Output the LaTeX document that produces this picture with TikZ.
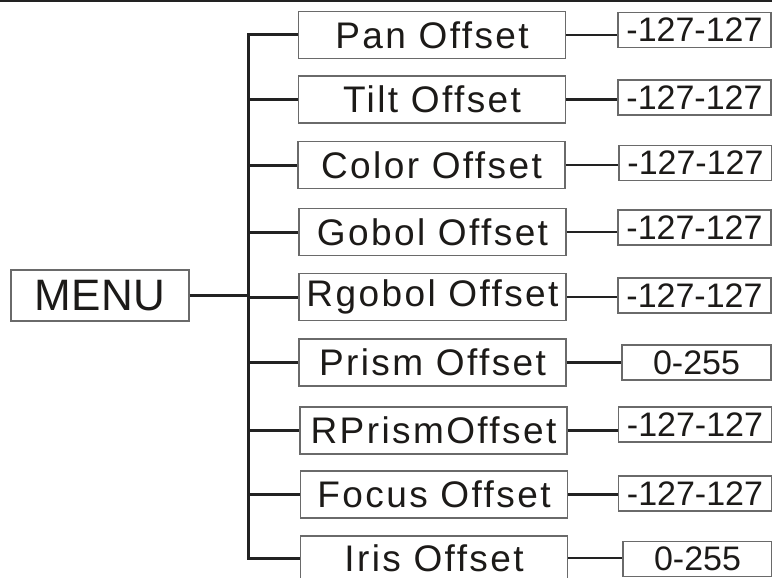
\documentclass[tikz,border=0pt]{standalone}
\usepackage{fontspec}
\setmainfont{Liberation Sans}
\newfontfamily\mainlblfont[LetterSpace=6.5]{Liberation Sans}
\newfontfamily\menulblfont[LetterSpace=1]{Liberation Sans}
\newfontfamily\vallblfont[LetterSpace=0]{Liberation Sans}
\definecolor{txt}{HTML}{1C1A18}
\definecolor{boxgray}{HTML}{6A6A6A}
\definecolor{linec}{HTML}{222222}
\begin{document}
\begin{tikzpicture}[x=1pt,y=-1pt,
  mainbox/.style={draw=boxgray, line width=1.2pt, minimum width=267pt, minimum height=47pt, inner sep=0pt, text=txt, font=\mainlblfont\fontsize{37}{37}\selectfont},
  valbox/.style={draw=boxgray, line width=1.2pt, minimum width=153pt, minimum height=35pt, inner sep=0pt, text=txt, font=\vallblfont\fontsize{34}{34}\selectfont},
  menubox/.style={draw=boxgray, line width=1.2pt, minimum width=178pt, minimum height=51pt, inner sep=0pt, text=txt, font=\menulblfont\fontsize{44}{44}\selectfont},
  conn/.style={draw=linec, line width=3pt},
  rconn/.style={draw=linec, line width=2.6pt}]
\useasboundingbox (0,0) rectangle (772,578);
\clip (0,0) rectangle (772,578);
\draw[linec, line width=1.6pt] (0,0.8) -- (772,0.8);

\node[menubox] (menu) at (100,295.5) {MENU};

\node[mainbox] (m1) at (432,35) {Pan Offset};
\node[mainbox] (m2) at (432,99.5) {Tilt Offset};
\node[mainbox] (m3) at (431.5,165) {Color Offset};
\node[mainbox] (m4) at (432.5,232) {Gobol Offset};
\node[mainbox] (m5) at (432.5,297) {Rgobol Offset};
\node[mainbox] (m6) at (432.5,362.5) {Prism Offset};
\node[mainbox] (m7) at (433.5,430.5) {RPrismOffset};
\node[mainbox] (m8) at (434,494.5) {Focus Offset};
\node[mainbox, minimum height=44pt] (m9) at (434,558) {Iris Offset};

\node[valbox] (v1) at (694.5,30) {-127-127};
\node[valbox] (v2) at (694.5,97.5) {-127-127};
\node[valbox] (v3) at (695.5,163) {-127-127};
\node[valbox] (v4) at (694.5,227.5) {-127-127};
\node[valbox] (v5) at (694.5,295.5) {-127-127};
\node[valbox, minimum width=149pt] (v6) at (696.5,362.5) {0-255};
\node[valbox] (v7) at (695,424.5) {-127-127};
\node[valbox] (v8) at (695,493.5) {-127-127};
\node[valbox, minimum width=149pt] (v9) at (697.5,559) {0-255};

\coordinate (trunk) at (248,0);
\draw[conn] (menu.east) -- (menu.east -| trunk);
\draw[conn] (m1.west) -- (m1.west -| trunk) -- (m9.west -| trunk) -- (m9.west);
\foreach \i in {2,...,8} {
  \draw[conn] (m\i.west -| trunk) -- (m\i.west);
}
\foreach \i in {1,...,9} {
  \draw[rconn] (m\i.east) -- (m\i.east -| v\i.west);
}
\end{tikzpicture}
\end{document}
